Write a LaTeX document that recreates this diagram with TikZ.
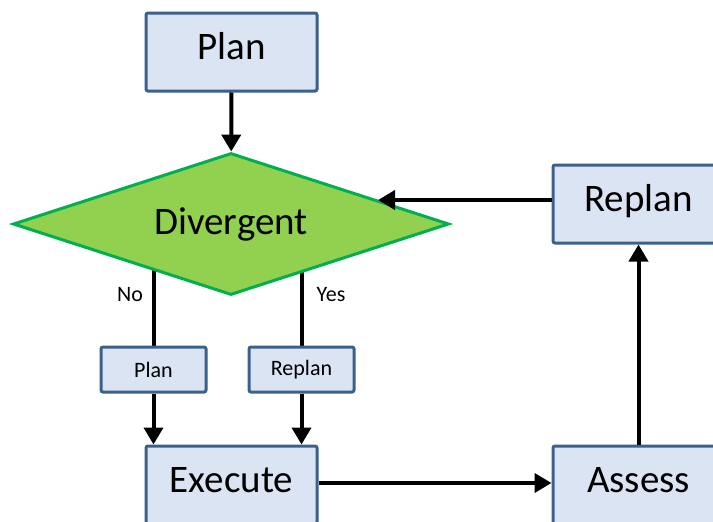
\documentclass[tikz,border=0pt]{standalone}
\usepackage{fontspec}
\setmainfont{Carlito}
\usetikzlibrary{arrows.meta,positioning,shapes.geometric,calc,backgrounds}
\definecolor{boxfill}{RGB}{219,228,242}
\definecolor{boxline}{RGB}{60,96,140}
\definecolor{decfill}{RGB}{146,208,80}
\definecolor{decline}{RGB}{0,176,80}

\begin{document}
\begin{tikzpicture}[
  x=1pt, y=-1pt,
  big/.style={font=\fontsize{39}{44}\selectfont},
  sm/.style={font=\fontsize{22}{26}\selectfont},
  b/.style={draw=boxline, line width=3pt, fill=boxfill, rounded corners=2pt, minimum width=171pt, minimum height=78pt, inner sep=0pt, big, text height=27pt, text depth=13pt},
  bs/.style={draw=boxline, line width=3pt, fill=boxfill, rounded corners=2pt, minimum width=105pt, minimum height=45pt, inner sep=0pt, sm},
  dec/.style={diamond, draw=decline, line width=3pt, fill=decfill, minimum width=436pt, minimum height=142pt, inner sep=0pt, shape aspect=3, big},
  pf/.style={line width=4pt, -{Triangle[length=17pt,width=19pt]}}
]
\useasboundingbox (0,0) rectangle (713,522);
\node[b] (plan) at (231.5,52) {Plan};
\node[dec] (div) at (231,224) {Divergent};
\node[b] (replan) at (638.5,204) {Replan};
\node[bs] (splan) at (153.5,369.5) {Plan};
\node[bs] (sreplan) at (301.5,369.5) {Replan};
\node[b] (exec) at (231.5,485) {Execute};
\node[b] (assess) at (638.5,485) {Assess};
\node[sm] (no) at (130,295) {No};
\node[sm] (yes) at (331,295) {Yes};
\coordinate (divr) at ($(div.north)!0.67!(div.east)$);
\coordinate (rin) at ([yshift=4pt]replan.west);
% branches leave the diamond from behind
\begin{scope}[on background layer]
\draw[line width=4pt] (splan.north) -- (splan.north |- div.center);
\draw[line width=4pt] (sreplan.north) -- (sreplan.north |- div.center);
\end{scope}
\draw[pf] (plan) -- (div);
\draw[pf] (splan.south) -- (splan.south |- exec.north);
\draw[pf] (sreplan.south) -- (sreplan.south |- exec.north);
\draw[pf] ([yshift=2pt]exec.east) -- ([yshift=2pt]assess.west);
\draw[pf] (assess) -- (replan);
\draw[pf] (rin) -- (divr |- rin);
\end{tikzpicture}
\end{document}
